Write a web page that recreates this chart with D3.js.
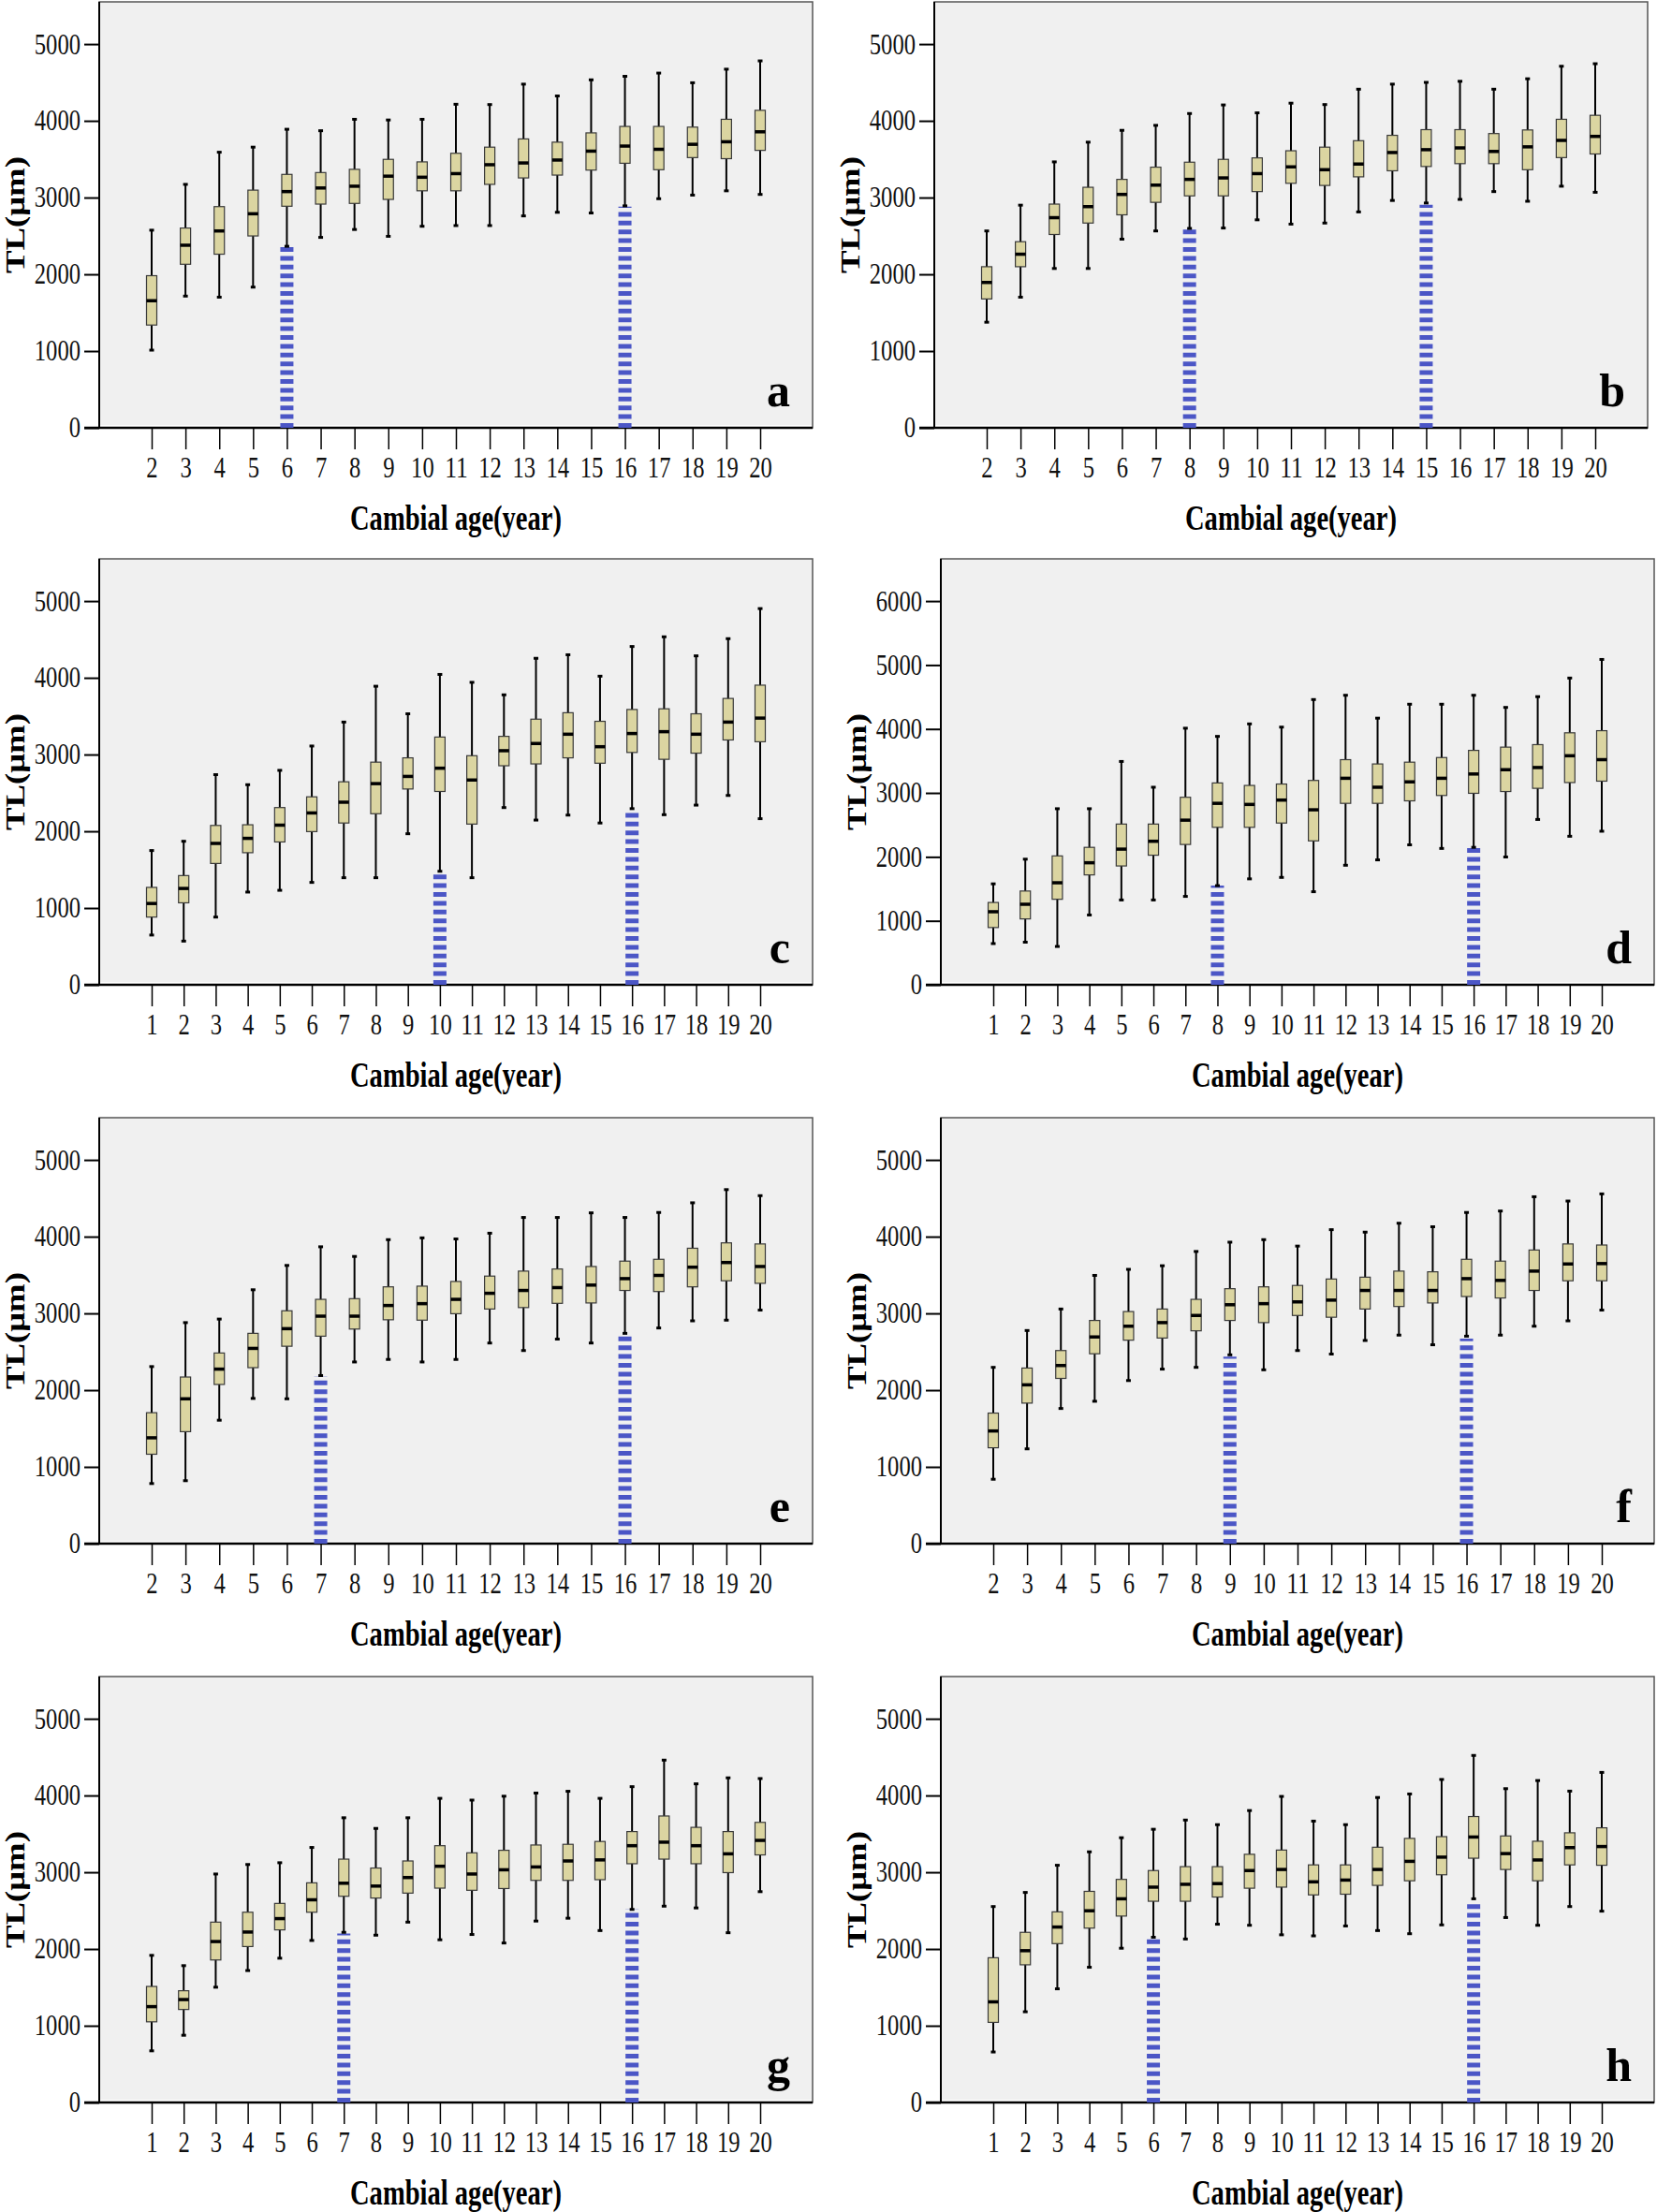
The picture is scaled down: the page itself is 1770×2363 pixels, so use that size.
<!DOCTYPE html>
<html>
<head>
<meta charset="utf-8">
<script src="https://cdn.jsdelivr.net/npm/d3@7"></script>
<style>
  body { margin: 0; background: #fff; }
  svg { display: block; }
</style>
</head>
<body>
<div id="viz"></div>
<script>
// each row: [cambial age, lower whisker, Q1, median, Q3, upper whisker]  (TL in µm)
const statsA = [
  [2, 1012, 1339, 1656, 1982, 2575], [3, 1716, 2131, 2379, 2603, 3172], [4, 1702, 2262, 2565, 2882, 3591],
  [5, 1833, 2500, 2789, 3097, 3657], [6, 2365, 2887, 3078, 3302, 3890], [7, 2481, 2915, 3125, 3326, 3871],
  [8, 2584, 2924, 3148, 3368, 4020], [9, 2495, 2976, 3279, 3498, 4011], [10, 2626, 3088, 3265, 3465, 4020],
  [11, 2635, 3088, 3312, 3577, 4216], [12, 2635, 3172, 3428, 3657, 4212], [13, 2761, 3256, 3451, 3764, 4478],
  [14, 2808, 3293, 3489, 3722, 4324], [15, 2799, 3358, 3605, 3843, 4534], [16, 2892, 3447, 3671, 3927, 4580],
  [17, 2985, 3363, 3629, 3927, 4622], [18, 3032, 3521, 3694, 3918, 4496], [19, 3088, 3507, 3727, 4020, 4673],
  [20, 3041, 3615, 3857, 4137, 4781]
];
const statsB = [
  [2, 1376, 1679, 1894, 2099, 2565], [3, 1702, 2099, 2262, 2425, 2901], [4, 2076, 2519, 2738, 2915, 3465],
  [5, 2076, 2668, 2882, 3134, 3722], [6, 2458, 2775, 3041, 3237, 3876], [7, 2565, 2938, 3162, 3396, 3941],
  [8, 2598, 3022, 3237, 3461, 4095], [9, 2603, 3022, 3256, 3498, 4207], [10, 2710, 3078, 3312, 3517, 4104],
  [11, 2654, 3186, 3400, 3610, 4230], [12, 2668, 3158, 3363, 3657, 4212], [13, 2813, 3270, 3437, 3741, 4412],
  [14, 2962, 3349, 3587, 3811, 4478], [15, 2929, 3405, 3624, 3885, 4501], [16, 2976, 3442, 3647, 3885, 4515],
  [17, 3078, 3442, 3601, 3834, 4412], [18, 2952, 3363, 3661, 3881, 4548], [19, 3148, 3521, 3745, 4020, 4711],
  [20, 3069, 3568, 3797, 4072, 4744]
];
const statsC = [
  [1, 648, 882, 1059, 1269, 1749], [2, 569, 1068, 1255, 1423, 1870], [3, 882, 1581, 1842, 2076, 2738],
  [4, 1208, 1721, 1908, 2085, 2607], [5, 1231, 1861, 2080, 2309, 2794], [6, 1334, 1996, 2239, 2449, 3111],
  [7, 1395, 2108, 2379, 2645, 3423], [8, 1395, 2229, 2621, 2901, 3890], [9, 1968, 2551, 2715, 2957, 3531],
  [10, 1479, 2519, 2822, 3228, 4044], [11, 1395, 2094, 2668, 2985, 3941], [12, 2309, 2854, 3050, 3237, 3778],
  [13, 2146, 2878, 3144, 3461, 4254], [14, 2211, 2957, 3265, 3545, 4300], [15, 2108, 2887, 3102, 3433, 4021],
  [16, 2295, 3027, 3274, 3587, 4408], [17, 2216, 2938, 3298, 3596, 4534], [18, 2341, 3018, 3265, 3531, 4286],
  [19, 2467, 3190, 3423, 3731, 4510], [20, 2164, 3167, 3475, 3904, 4902]
];
const statsD = [
  [1, 644, 895, 1142, 1287, 1578], [2, 666, 1030, 1259, 1466, 1964], [3, 599, 1337, 1595, 2015, 2753],
  [4, 1091, 1718, 1908, 2149, 2753], [5, 1326, 1858, 2121, 2513, 3492], [6, 1326, 2026, 2244, 2513, 3089],
  [7, 1382, 2194, 2574, 2932, 4012], [8, 1550, 2462, 2837, 3156, 3884], [9, 1656, 2462, 2820, 3117, 4079],
  [10, 1679, 2529, 2888, 3139, 4029], [11, 1455, 2250, 2736, 3195, 4460], [12, 1869, 2837, 3229, 3520, 4527],
  [13, 1953, 2837, 3089, 3453, 4169], [14, 2188, 2876, 3173, 3481, 4387], [15, 2132, 2960, 3229, 3553, 4387],
  [16, 2149, 2994, 3296, 3665, 4527], [17, 1998, 3022, 3363, 3716, 4337], [18, 2585, 3072, 3397, 3755, 4505],
  [19, 2322, 3162, 3581, 3940, 4796], [20, 2401, 3184, 3520, 3973, 5087]
];
const statsE = [
  [2, 783, 1165, 1379, 1706, 2307], [3, 820, 1459, 1887, 2171, 2880], [4, 1608, 2074, 2274, 2484, 2926],
  [5, 1892, 2293, 2544, 2740, 3308], [6, 1887, 2572, 2801, 3034, 3625], [7, 2190, 2703, 2964, 3183, 3868],
  [8, 2367, 2796, 2964, 3192, 3742], [9, 2400, 2917, 3103, 3346, 3961], [10, 2367, 2912, 3127, 3355, 3984],
  [11, 2400, 2996, 3183, 3416, 3970], [12, 2614, 3057, 3262, 3486, 4045], [13, 2516, 3076, 3299, 3551, 4250],
  [14, 2665, 3131, 3336, 3579, 4250], [15, 2614, 3136, 3369, 3611, 4310], [16, 2740, 3299, 3453, 3681, 4250],
  [17, 2810, 3285, 3495, 3705, 4315], [18, 2903, 3346, 3602, 3849, 4441], [19, 2912, 3425, 3663, 3919, 4613],
  [20, 3043, 3392, 3611, 3905, 4534]
];
const statsF = [
  [2, 839, 1249, 1468, 1701, 2297], [3, 1235, 1831, 2069, 2288, 2777], [4, 1761, 2153, 2321, 2516, 3057],
  [5, 1855, 2474, 2693, 2908, 3495], [6, 2125, 2651, 2833, 3024, 3574], [7, 2274, 2679, 2880, 3057, 3621],
  [8, 2297, 2773, 2973, 3183, 3807], [9, 2460, 2908, 3113, 3322, 3928], [10, 2265, 2880, 3127, 3346, 3961],
  [11, 2516, 2973, 3150, 3364, 3877], [12, 2470, 2950, 3173, 3448, 4091], [13, 2647, 3057, 3299, 3472, 4059],
  [14, 2717, 3090, 3299, 3551, 4175], [15, 2591, 3136, 3299, 3542, 4129], [16, 2703, 3220, 3453, 3705, 4315],
  [17, 2717, 3201, 3430, 3681, 4334], [18, 2833, 3299, 3551, 3826, 4520], [19, 2903, 3425, 3644, 3905, 4464],
  [20, 3043, 3425, 3649, 3891, 4557]
];
const statsG = [
  [1, 673, 1051, 1249, 1512, 1917], [2, 876, 1212, 1341, 1456, 1783], [3, 1502, 1857, 2097, 2350, 2977],
  [4, 1719, 2032, 2221, 2479, 3101], [5, 1880, 2249, 2396, 2594, 3124], [6, 2111, 2479, 2641, 2862, 3323],
  [7, 2217, 2687, 2857, 3171, 3710], [8, 2180, 2664, 2820, 3055, 3571], [9, 2350, 2728, 2931, 3147, 3710],
  [10, 2120, 2793, 3078, 3346, 3963], [11, 2189, 2765, 2977, 3253, 3940], [12, 2078, 2788, 3032, 3286, 3991],
  [13, 2364, 2894, 3069, 3355, 4032], [14, 2401, 2894, 3147, 3364, 4055], [15, 2240, 2903, 3161, 3401, 3963],
  [16, 2516, 3111, 3346, 3530, 4115], [17, 2558, 3171, 3392, 3733, 4461], [18, 2535, 3111, 3346, 3585, 4152],
  [19, 2212, 2995, 3240, 3530, 4230], [20, 2747, 3226, 3415, 3650, 4221]
];
const statsH = [
  [1, 658, 1044, 1311, 1886, 2553], [2, 1182, 1794, 1978, 2217, 2737], [3, 1481, 2070, 2286, 2484, 3091],
  [4, 1762, 2272, 2498, 2751, 3266], [5, 2010, 2429, 2654, 2907, 3450], [6, 2153, 2622, 2806, 3022, 3560],
  [7, 2130, 2622, 2843, 3073, 3680], [8, 2323, 2677, 2852, 3073, 3620], [9, 2309, 2792, 3022, 3234, 3804],
  [10, 2185, 2806, 3036, 3289, 3988], [11, 2171, 2705, 2875, 3096, 3666], [12, 2300, 2714, 2898, 3096, 3620],
  [13, 2240, 2829, 3036, 3326, 3974], [14, 2199, 2889, 3142, 3441, 4020], [15, 2314, 2967, 3197, 3464, 4209],
  [16, 2654, 3183, 3459, 3726, 4522], [17, 2410, 3036, 3243, 3473, 4089], [18, 2309, 2889, 3160, 3404, 4195],
  [19, 2553, 3096, 3321, 3514, 4057], [20, 2493, 3091, 3335, 3579, 4301]
];

// blue dashed markers: [cambial age, height]
const markA = [[6, 2355], [16, 2882]];
const markB = [[8, 2589], [15, 2906]];
const markC = [[10, 1455], [16, 2271]];
const markD = [[8, 1550], [16, 2138]];
const markE = [[7, 2181], [16, 2740]];
const markF = [[9, 2437], [16, 2670]];
const markG = [[7, 2203], [16, 2525]];
const markH = [[6, 2148], [16, 2622]];

// y tick labels
const ticks5 = [0, 1000, 2000, 3000, 4000, 5000];
const ticks6 = [0, 1000, 2000, 3000, 4000, 5000, 6000];

const panels = [
  { letter: "a", stats: statsA, marks: markA, ticks: ticks5, yMax: 5550, left: 106, top: 2 },
  { letter: "b", stats: statsB, marks: markB, ticks: ticks5, yMax: 5550, left: 998, top: 2 },
  { letter: "c", stats: statsC, marks: markC, ticks: ticks5, yMax: 5550, left: 106, top: 597 },
  { letter: "d", stats: statsD, marks: markD, ticks: ticks6, yMax: 6660, left: 1005, top: 597 },
  { letter: "e", stats: statsE, marks: markE, ticks: ticks5, yMax: 5550, left: 106, top: 1194 },
  { letter: "f", stats: statsF, marks: markF, ticks: ticks5, yMax: 5550, left: 1005, top: 1194 },
  { letter: "g", stats: statsG, marks: markG, ticks: ticks5, yMax: 5550, left: 106, top: 1791 },
  { letter: "h", stats: statsH, marks: markH, ticks: ticks5, yMax: 5550, left: 1005, top: 1791 }
];

const W = 762, H = 455;   // plot frame size (top to zero line)
const serif = "'Liberation Serif', 'Times New Roman', serif";

const svg = d3.select("#viz")
  .append("svg")
  .attr("width", 1770)
  .attr("height", 2363);

svg.append("rect").attr("width", 1770).attr("height", 2363).attr("fill", "#fff");

panels.forEach(p => {
  const g = svg.append("g").attr("transform", `translate(${p.left},${p.top})`);

  const x = d3.scalePoint()
    .domain(p.stats.map(d => d[0]))
    .range([56, W - 56]);
  const y = d3.scaleLinear()
    .domain([0, p.yMax])
    .range([H, 0]);

  // frame
  g.append("rect").attr("width", W).attr("height", H - 3).attr("fill", "#f0f0f0");
  g.append("rect").attr("width", W).attr("height", H)
    .attr("fill", "none").attr("stroke", "#555").attr("stroke-width", 1.5);

  // y axis
  const yAxis = g.append("g")
    .call(d3.axisLeft(y).tickValues(p.ticks).tickSize(16).tickPadding(4).tickFormat(d3.format("d")));
  yAxis.select(".domain").remove();
  yAxis.selectAll(".tick line").attr("stroke", "#000").attr("stroke-width", 2);
  yAxis.selectAll(".tick text")
    .attr("font-family", serif).attr("font-size", 31).attr("fill", "#111")
    .attr("textLength", d => String(d).length * 12.3)
    .attr("lengthAdjust", "spacingAndGlyphs");

  // x axis
  const xAxis = g.append("g")
    .attr("transform", `translate(0,${H})`)
    .call(d3.axisBottom(x).tickSize(23).tickPadding(8));
  xAxis.select(".domain").remove();
  xAxis.selectAll(".tick line").attr("stroke", "#000").attr("stroke-width", 1.5);
  xAxis.selectAll(".tick text")
    .attr("font-family", serif).attr("font-size", 31).attr("fill", "#111")
    .attr("textLength", d => String(d).length * 12.3)
    .attr("lengthAdjust", "spacingAndGlyphs");

  // axis lines
  g.append("line").attr("x1", 0).attr("x2", 0).attr("y1", 0).attr("y2", H)
    .attr("stroke", "#000").attr("stroke-width", 2);
  g.append("line").attr("x1", -16).attr("x2", W).attr("y1", H).attr("y2", H)
    .attr("stroke", "#000").attr("stroke-width", 2.5);

  // blue dashed markers
  g.selectAll("line.mark")
    .data(p.marks)
    .enter()
    .append("line")
    .attr("class", "mark")
    .attr("x1", d => x(d[0])).attr("x2", d => x(d[0]))
    .attr("y1", y(0)).attr("y2", d => y(d[1]))
    .attr("stroke", "#4b56c6")
    .attr("stroke-width", 14)
    .attr("stroke-dasharray", "5 4.4");

  // boxplots
  const box = g.selectAll("g.box")
    .data(p.stats)
    .enter()
    .append("g")
    .attr("class", "box")
    .attr("transform", d => `translate(${x(d[0])},0)`);

  box.append("line")
    .attr("y1", d => y(d[1])).attr("y2", d => y(d[5]))
    .attr("stroke", "#000").attr("stroke-width", 2);
  box.append("rect")   // upper cap
    .attr("x", -2.5).attr("width", 5).attr("height", 3)
    .attr("y", d => y(d[5]) - 1.5).attr("fill", "#000");
  box.append("rect")   // lower cap
    .attr("x", -2.5).attr("width", 5).attr("height", 3)
    .attr("y", d => y(d[1]) - 1.5).attr("fill", "#000");
  box.append("rect")
    .attr("x", -5.5).attr("width", 11)
    .attr("y", d => y(d[4])).attr("height", d => y(d[2]) - y(d[4]))
    .attr("fill", "#dbd5a1").attr("stroke", "#3a3a3a").attr("stroke-width", 1.2);
  box.append("line")
    .attr("x1", -5.5).attr("x2", 5.5)
    .attr("y1", d => y(d[3])).attr("y2", d => y(d[3]))
    .attr("stroke", "#000").attr("stroke-width", 3.5);

  // titles
  g.append("text")
    .attr("x", W / 2).attr("y", H + 109)
    .attr("text-anchor", "middle")
    .attr("font-family", serif).attr("font-weight", "bold").attr("font-size", 37)
    .attr("textLength", 226).attr("lengthAdjust", "spacingAndGlyphs")
    .text("Cambial age(year)");

  g.append("text")
    .attr("transform", `translate(-80,${H / 2}) rotate(-90)`)
    .attr("text-anchor", "middle")
    .attr("font-family", serif).attr("font-weight", "bold").attr("font-size", 29)
    .attr("textLength", 125).attr("lengthAdjust", "spacingAndGlyphs")
    .text("TL(μm)");

  g.append("text")
    .attr("x", W - 24).attr("y", H - 23)
    .attr("text-anchor", "end")
    .attr("font-family", serif).attr("font-weight", "bold").attr("font-size", 50)
    .text(p.letter);
});
</script>
</body>
</html>
